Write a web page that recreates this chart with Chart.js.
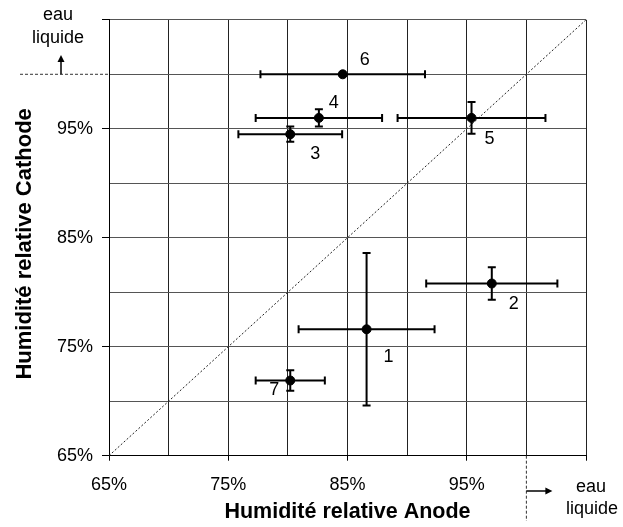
<!DOCTYPE html>
<html>
<head>
<meta charset="utf-8">
<script src="https://cdn.jsdelivr.net/npm/chart.js@4.4.1/dist/chart.umd.min.js"></script>
<style>
  html, body { margin: 0; padding: 0; background: #fff; }
  #wrap { width: 623px; height: 527px; }
</style>
</head>
<body>
<div id="wrap"><canvas id="chart" width="623" height="527"></canvas></div>
<script>
// Points de fonctionnement (HR anode / HR cathode, en %)
const POINT_LABELS = ['1', '2', '3', '4', '5', '6', '7'];
const ANODE_RH = [86.6, 97.1, 80.2, 82.6, 95.4, 84.6, 80.2];
const CATHODE_RH = [76.6, 80.8, 94.5, 96.0, 96.0, 100.0, 71.9];
const ANODE_ERR = [5.7, 5.5, 4.35, 5.3, 6.2, 6.9, 2.9];
const CATHODE_ERR = [7.0, 1.5, 0.7, 0.8, 1.45, 0, 0.95];

const AXIS_MIN = 65;
const AXIS_MAX = 105;
const AXIS_STEP = 5;
const TICK_LABELS = [65, 75, 85, 95];
const LIQUID_LIMIT = 100;

const FONT = '"Liberation Sans", Arial, sans-serif';

// décalage des numéros (px) par rapport au point
const LABEL_OFFSETS = [[22, 28], [22, 21], [25, 20], [15, -15], [18, 21], [22, -14], [-16, 10]];

function tickMark(c) {
    return c.tick && (c.tick.value - AXIS_MIN) % 10 === 0 ? '#000' : 'rgba(0,0,0,0)';
}

function arrow(ctx, x1, y1, x2, y2) {
    const a = Math.atan2(y2 - y1, x2 - x1);
    ctx.beginPath();
    ctx.moveTo(x1, y1);
    ctx.lineTo(x2 - 5 * Math.cos(a), y2 - 5 * Math.sin(a));
    ctx.stroke();
    ctx.beginPath();
    ctx.moveTo(x2, y2);
    ctx.lineTo(x2 - 7 * Math.cos(a) + 3.5 * Math.sin(a), y2 - 7 * Math.sin(a) - 3.5 * Math.cos(a));
    ctx.lineTo(x2 - 7 * Math.cos(a) - 3.5 * Math.sin(a), y2 - 7 * Math.sin(a) + 3.5 * Math.cos(a));
    ctx.closePath();
    ctx.fill();
}

const errorBars = {
    id: 'errorBars',
    afterDatasetsDraw(chart) {
        const ctx = chart.ctx;
        const xs = chart.scales.x, ys = chart.scales.y;
        const cap = 4;
        ctx.save();
        ctx.strokeStyle = '#000';
        ctx.lineWidth = 2;
        ANODE_RH.forEach((ax, i) => {
            const px = xs.getPixelForValue(ax);
            const py = ys.getPixelForValue(CATHODE_RH[i]);
            const xl = xs.getPixelForValue(ax - ANODE_ERR[i]);
            const xr = xs.getPixelForValue(ax + ANODE_ERR[i]);
            ctx.beginPath();
            ctx.moveTo(xl, py); ctx.lineTo(xr, py);
            ctx.moveTo(xl, py - cap); ctx.lineTo(xl, py + cap);
            ctx.moveTo(xr, py - cap); ctx.lineTo(xr, py + cap);
            ctx.stroke();
            if (CATHODE_ERR[i] > 0) {
                const yt = ys.getPixelForValue(CATHODE_RH[i] + CATHODE_ERR[i]);
                const yb = ys.getPixelForValue(CATHODE_RH[i] - CATHODE_ERR[i]);
                ctx.beginPath();
                ctx.moveTo(px, yt); ctx.lineTo(px, yb);
                ctx.moveTo(px - cap, yt); ctx.lineTo(px + cap, yt);
                ctx.moveTo(px - cap, yb); ctx.lineTo(px + cap, yb);
                ctx.stroke();
            }
        });

        // numéros des points
        ctx.fillStyle = '#000';
        ctx.font = '18px ' + FONT;
        ctx.textAlign = 'center';
        ctx.textBaseline = 'middle';
        POINT_LABELS.forEach((lab, i) => {
            const px = xs.getPixelForValue(ANODE_RH[i]);
            const py = ys.getPixelForValue(CATHODE_RH[i]);
            ctx.fillText(lab, px + LABEL_OFFSETS[i][0], py + LABEL_OFFSETS[i][1]);
        });
        ctx.restore();
    },
    afterDraw(chart) {
        // limite eau liquide (100 %)
        const ctx = chart.ctx;
        const xs = chart.scales.x, ys = chart.scales.y;
        const lx = xs.getPixelForValue(LIQUID_LIMIT);
        const ly = ys.getPixelForValue(LIQUID_LIMIT);
        const area = chart.chartArea;
        ctx.save();
        ctx.strokeStyle = '#333';
        ctx.lineWidth = 1;
        ctx.setLineDash([3, 2]);
        ctx.beginPath();
        ctx.moveTo(20, ly); ctx.lineTo(area.left, ly);
        ctx.moveTo(lx, area.bottom); ctx.lineTo(lx, 521);
        ctx.stroke();
        ctx.setLineDash([]);
        ctx.strokeStyle = '#000';
        ctx.fillStyle = '#000';
        ctx.lineWidth = 1.5;
        arrow(ctx, 61, ly, 61, 55);
        arrow(ctx, lx, 491, lx + 26, 491);

        ctx.font = '18px ' + FONT;
        ctx.textAlign = 'center';
        ctx.textBaseline = 'alphabetic';
        ctx.fillText('eau', 58, 20);
        ctx.fillText('liquide', 58, 43);
        ctx.fillText('eau', 591, 492);
        ctx.fillText('liquide', 592, 514);
        ctx.restore();
    }
};

const points = ANODE_RH.map((x, i) => ({ x: x, y: CATHODE_RH[i] }));

new Chart(document.getElementById('chart'), {
    type: 'scatter',
    data: {
        datasets: [
            {
                type: 'line',
                data: [{ x: AXIS_MIN, y: AXIS_MIN }, { x: AXIS_MAX, y: AXIS_MAX }],
                borderColor: '#222',
                borderWidth: 1,
                borderDash: [2, 2],
                pointRadius: 0,
                fill: false
            },
            {
                data: points,
                backgroundColor: '#000',
                borderColor: '#000',
                pointRadius: 4.5,
                pointHoverRadius: 4.5
            }
        ]
    },
    options: {
        responsive: false,
        animation: false,
        devicePixelRatio: 1,
        layout: { padding: { left: 0, top: 17, right: 37, bottom: 0 } },
        plugins: { legend: { display: false }, tooltip: { enabled: false } },
        scales: {
            x: {
                type: 'linear',
                min: AXIS_MIN,
                max: AXIS_MAX,
                afterFit: s => { s.height = 71.3; },
                ticks: {
                    stepSize: AXIS_STEP,
                    autoSkip: false,
                    maxRotation: 0,
                    padding: 14,
                    color: '#000',
                    font: { family: FONT, size: 18 },
                    callback: v => TICK_LABELS.includes(v) ? v + '%' : ''
                },
                grid: { color: '#222', lineWidth: 1, tickLength: 5, tickColor: tickMark },
                border: { color: '#000', width: 1 },
                title: {
                    display: true,
                    text: 'Humidité relative Anode',
                    color: '#000',
                    font: { family: FONT, size: 21.5, weight: 'bold' },
                    padding: { top: 0, bottom: 2 }
                }
            },
            y: {
                type: 'linear',
                min: AXIS_MIN,
                max: AXIS_MAX,
                afterFit: s => { s.width = 109; },
                ticks: {
                    stepSize: AXIS_STEP,
                    autoSkip: false,
                    padding: 9,
                    color: '#000',
                    font: { family: FONT, size: 18 },
                    callback: v => TICK_LABELS.includes(v) ? v + '%' : ''
                },
                grid: { color: '#555', lineWidth: 1, tickLength: 7, tickColor: tickMark },
                border: { color: '#000', width: 1 },
                title: {
                    display: true,
                    text: 'Humidité relative Cathode  ',
                    color: '#000',
                    font: { family: FONT, size: 22, weight: 'bold' },
                    padding: { top: 12, bottom: 0 }
                }
            }
        }
    },
    plugins: [errorBars]
});
</script>
</body>
</html>
